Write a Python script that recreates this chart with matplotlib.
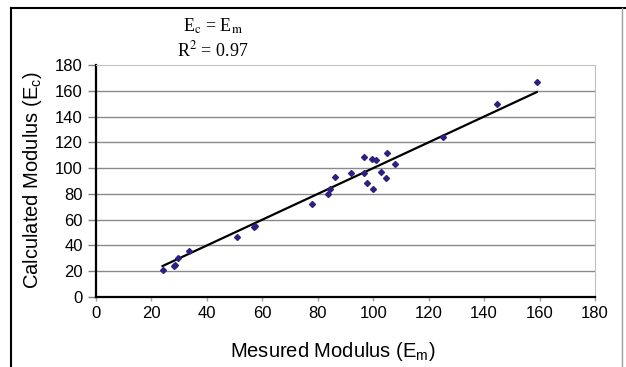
import matplotlib
matplotlib.use("Agg")
import matplotlib.pyplot as plt
from matplotlib.lines import Line2D

# values
measured = [24, 28, 28.5, 29.5, 33.4, 51, 57, 57.5, 78, 83.7, 84.4, 86.2,
            92, 96.5, 96.5, 97.6, 99.7, 101, 99.8, 102.7, 104.5, 105.1,
            107.7, 125.3, 144.5, 159]
calculated = [21, 24, 25, 30.5, 35.5, 46.5, 54, 55, 72, 80, 83.5, 93,
              96.5, 108.6, 96, 88.5, 107, 106.5, 83.5, 97, 92.5, 111.5,
              103.5, 124.5, 150, 166.5]
ticks = [0, 20, 40, 60, 80, 100, 120, 140, 160, 180]

plt.rcParams["mathtext.fontset"] = "custom"
plt.rcParams["mathtext.rm"] = "Liberation Sans"
plt.rcParams["font.family"] = "Liberation Sans"

W, H = 626, 367
fig = plt.figure(figsize=(W / 100, H / 100), dpi=100)
ax = fig.add_axes([96 / W, 1 - 297 / H, 499 / W, 232 / H])

ax.set_xlim(0, 180)
ax.set_ylim(0, 180)
ax.set_xticks(ticks)
ax.set_yticks(ticks)
ax.tick_params(labelsize=12, colors="#000000")
ax.tick_params(axis="y", length=6, width=1, color="#808080")
ax.tick_params(axis="x", length=3, width=1, color="#a0a0a0")

for t in ticks[1:-1]:
    ax.axhline(t, color="#8a8a8a", lw=1, zorder=0)

ax.spines["left"].set_linewidth(1.6)
ax.spines["bottom"].set_linewidth(1.6)
ax.spines["top"].set_color("#c0c0c0")
ax.spines["right"].set_color("#c0c0c0")

lo, hi = min(measured), max(measured)
ax.plot([lo, hi], [lo, hi], color="black", lw=1.6, zorder=2)
ax.plot(measured, calculated, linestyle="none", marker="D", markersize=3,
        color="#2b2080", zorder=3)

ax.set_xlabel(r"Mesured Modulus (E$_\mathrm{m}$)", fontsize=14.5)
ax.set_ylabel(r"Calculated Modulus (E$_\mathrm{c}$)", fontsize=14.5)
ax.xaxis.set_label_coords((333 - 96) / 499, (297 - 340) / 232)
ax.yaxis.set_label_coords((44 - 96) / 499, (297 - 180) / 232)

fig.text(213 / W, 1 - 26 / H, r"E$_\mathrm{c}$ = E$_\mathrm{m}$",
         family="Liberation Serif", math_fontfamily="stix", fontsize=13,
         ha="center", va="center")
fig.text(213 / W, 1 - 50 / H, r"R$^2$ = 0.97",
         family="Liberation Serif", math_fontfamily="stix", fontsize=13,
         ha="center", va="center")

# outer chart frame
fig.add_artist(Line2D([11 / W, 1], [1 - 8 / H, 1 - 8 / H], color="black", lw=1.5))
fig.add_artist(Line2D([11 / W, 11 / W], [0, 1 - 8 / H], color="black", lw=1.5))
fig.add_artist(Line2D([622 / W, 622 / W], [0, 1 - 8 / H], color="#a0a0a0", lw=1))

fig.savefig("out.png", dpi=100)
